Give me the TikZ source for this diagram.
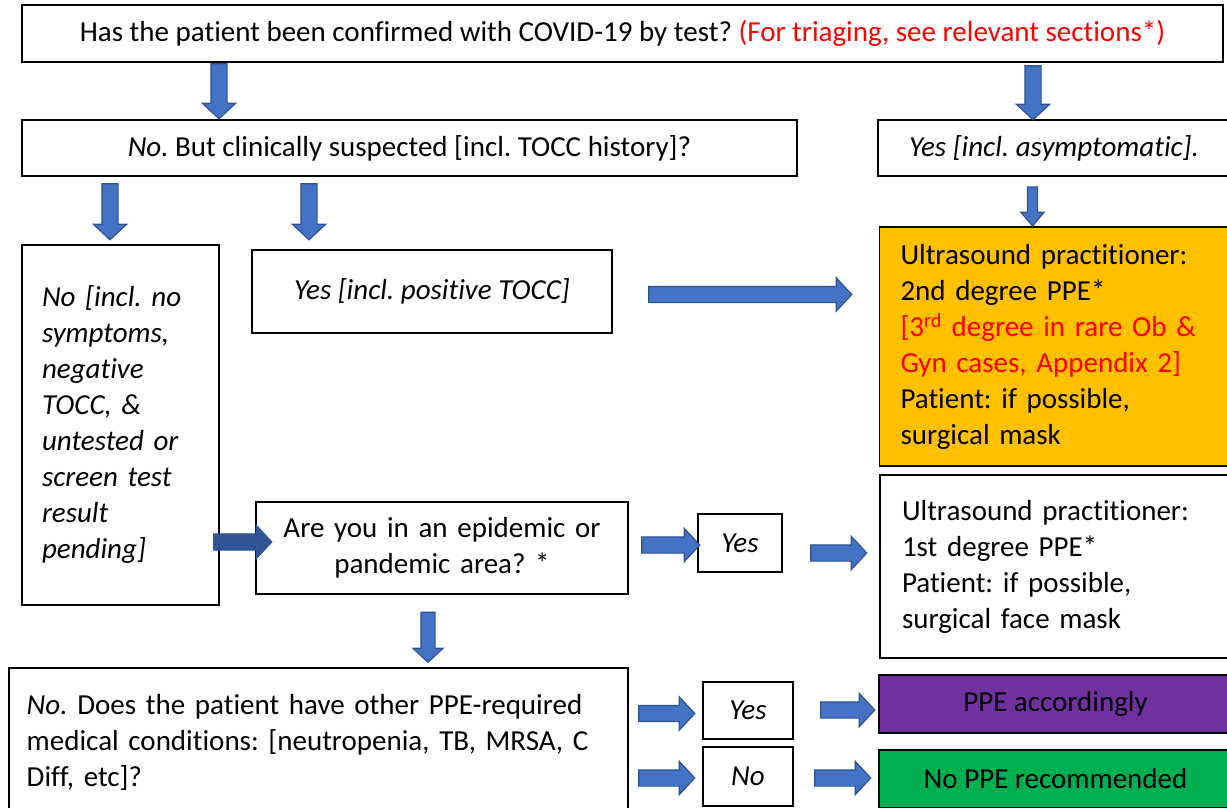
\documentclass[tikz,border=0pt]{standalone}
\usepackage{fontspec}
\setmainfont{Carlito}[Ligatures=NoCommon]
\frenchspacing
\usetikzlibrary{shapes.arrows}

\definecolor{arrowblue}{HTML}{4472C4}
\definecolor{arrowedge}{HTML}{2F528F}
\definecolor{darkarrow}{HTML}{2F5597}
\definecolor{ppeorange}{HTML}{FFC000}
\definecolor{ppepurple}{HTML}{7030A0}
\definecolor{ppegreen}{HTML}{00B050}

\begin{document}
\begin{tikzpicture}[x=1pt,y=-1pt,
    font=\fontsize{29}{36}\selectfont,
    box/.style={draw, line width=1.5pt, inner sep=0pt, align=center},
    barrow/.style={single arrow, draw=arrowedge, fill=arrowblue, line width=1.2pt,
      inner xsep=0pt, inner ysep=7.5pt, minimum width=0pt, minimum height=#1,
      single arrow head extend=8.5pt, single arrow tip angle=94}]
  \useasboundingbox (0,0) rectangle (1227,808);

  % question boxes
  \node[box, minimum width=1201pt, minimum height=57pt] (test) at (622.5,33.5)
    {Has the patient been confirmed with COVID-19 by test? \textcolor{red}{(For triaging, see relevant sections*)}};
  \node[box, minimum width=775pt, minimum height=56pt] (susp) at (409.5,148)
    {\textit{No.} But clinically suspected [incl. TOCC history]?};
  \node[box, minimum width=352pt, minimum height=56pt] (asym) at (1054,148)
    {\textit{Yes [incl. asymptomatic].}};
  \node[box, minimum height=360pt, text width=157pt, inner xsep=20pt, align=left] (nosusp) at (120.5,425)
    {\itshape No [incl. no\\symptoms,\\negative\\TOCC, \&\\untested or\\screen test\\result\\pending]};
  \node[box, minimum width=360pt, minimum height=83pt] (possusp) at (432,291.5)
    {\textit{Yes [incl. positive TOCC]}};
  \node[box, minimum height=92pt, text width=372pt] (epi) at (442,548)
    {Are you in an epidemic or\\pandemic area? *};
  \node[box, anchor=north west, minimum height=150pt, text width=583pt, inner xsep=18pt, align=left] (other) at (8,667)
    {\textit{No.} Does the patient have other PPE-required\\medical conditions: [neutropenia, TB, MRSA, C\\Diff, etc]?};

  % answers
  \node[box, minimum width=84pt, minimum height=58pt] (epiyes) at (740,543) {\textit{Yes}};
  \node[box, minimum width=90pt, minimum height=57pt] (otheryes) at (748,710.5) {\textit{Yes}};
  \node[box, minimum width=90pt, minimum height=59pt] (otherno) at (748,776.5) {\textit{No}};

  % PPE outcomes
  \node[box, fill=ppeorange, minimum height=239pt, text width=310pt, inner xsep=21pt, align=left] (ppetwo) at (1055.5,346.5)
    {Ultrasound practitioner:\\2nd degree PPE*\\\textcolor{red}{[3\textsuperscript{rd} degree in rare Ob \&\\Gyn cases, Appendix 2]}\\Patient: if possible,\\surgical mask};
  \node[box, minimum height=183pt, text width=308pt, inner xsep=22pt, align=left] (ppeone) at (1056,566.5)
    {Ultrasound practitioner:\\1st degree PPE*\\Patient: if possible,\\surgical face mask};
  \node[box, fill=ppepurple, minimum width=353pt, minimum height=58pt] (ppeacc) at (1055.5,704) {PPE accordingly};
  \node[box, fill=ppegreen, minimum width=353pt, minimum height=58pt] (ppenone) at (1055.5,779) {No PPE recommended};

  % block arrows
  \foreach \n/\x/\y/\l in {1/219/87.5/55pt, 2/1033/89/54pt, 3/110/208/56pt, 4/309/208/56pt}{
    \node[barrow=\l, rotate=-90] (down\n) at (\x,\y) {};
  }
  \node[barrow=39pt, rotate=-90, inner ysep=4.5pt, single arrow head extend=6.5pt, single arrow tip angle=80] (down5) at (1032.5,203.5) {};
  \node[barrow=50pt, rotate=-90, inner ysep=6.5pt, single arrow head extend=8pt] (down6) at (428,634) {};

  \foreach \n/\x/\y/\l in {1/746.5/294.5/203pt, 2/667/545/58pt, 3/835/553/56pt,
                           4/663/713.5/56pt, 5/844/710/54pt, 6/663/778/56pt, 7/839/778/56pt}{
    \node[barrow=\l] (right\n) at (\x,\y) {};
  }
  \node[barrow=58pt, fill=darkarrow, draw=darkarrow] (right8) at (239,542) {};
\end{tikzpicture}
\end{document}
